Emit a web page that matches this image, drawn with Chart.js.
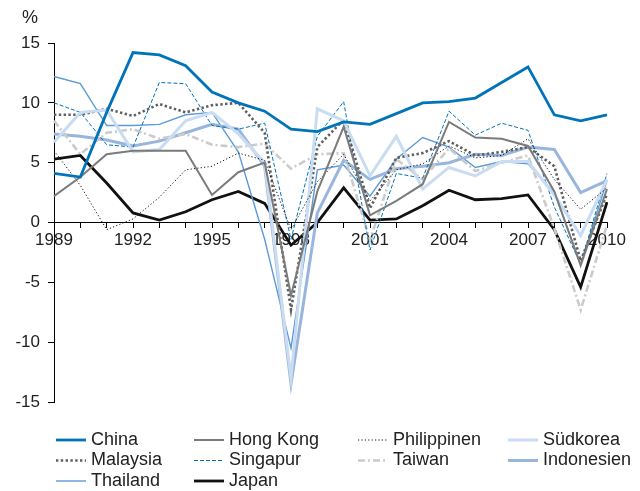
<!DOCTYPE html>
<html>
<head>
<meta charset="utf-8">
<title>BIP-Wachstum Asien</title>
<script src="https://cdn.jsdelivr.net/npm/chart.js@4"></script>
<style>
  body { margin: 0; background: #fff; }
  canvas { display: block; }
</style>
</head>
<body>
<canvas id="chart" width="640" height="491"></canvas>
<script>
const years = ['1989','1990','1991','1992','1993','1994','1995','1996','1997','1998','1999',
               '2000','2001','2002','2003','2004','2005','2006','2007','2008','2009','2010'];

const china       = [4.1, 3.8, 9.2, 14.2, 14.0, 13.1, 10.9, 10.0, 9.3, 7.8, 7.6, 8.4, 8.2, 9.1, 10.0, 10.1, 10.4, 11.7, 13.0, 9.0, 8.5, 9.0];
const hongKong    = [2.2, 3.8, 5.7, 6.0, 6.0, 6.0, 2.3, 4.2, 5.0, -6.1, 2.6, 8.0, 0.6, 1.8, 3.2, 8.4, 7.1, 7.0, 6.4, 2.6, -3.6, 2.8];
const philippinen = [6.0, 3.1, -0.6, 0.3, 2.1, 4.4, 4.7, 5.8, 5.2, -0.6, 3.4, 5.7, 1.8, 4.4, 4.9, 6.4, 5.4, 5.6, 7.0, 3.6, 1.1, 2.9];
const suedkorea   = [6.7, 9.2, 9.4, 5.9, 6.1, 8.5, 9.2, 7.4, 5.0, -13.0, 9.5, 8.5, 3.9, 7.2, 2.8, 4.6, 3.9, 5.1, 5.1, 2.3, -1.1, 3.6];
const malaysia    = [9.0, 9.0, 9.5, 8.9, 9.9, 9.2, 9.8, 10.0, 7.5, -7.3, 6.3, 8.6, 1.2, 5.4, 5.8, 6.8, 5.6, 5.9, 6.3, 4.7, -3.2, 2.4];
const singapur    = [10.0, 9.2, 6.5, 6.3, 11.7, 11.6, 8.1, 7.8, 8.3, -1.4, 7.2, 10.1, -2.3, 4.1, 3.7, 9.3, 7.3, 8.3, 7.7, 1.3, -3.5, 4.1];
const taiwan      = [8.5, 5.7, 7.5, 7.8, 7.0, 7.4, 6.5, 6.3, 6.6, 4.5, 5.7, 5.8, -1.5, 5.3, 3.6, 6.2, 4.3, 5.0, 5.6, -0.5, -7.3, -0.2];
const indonesien  = [7.4, 7.2, 6.9, 6.4, 6.8, 7.5, 8.2, 7.8, 4.7, -13.5, 0.8, 5.2, 3.6, 4.5, 4.7, 5.0, 5.7, 5.6, 6.3, 6.1, 2.5, 3.5];
const thailand    = [12.2, 11.6, 8.1, 8.1, 8.2, 9.0, 9.2, 5.9, -1.4, -10.5, 4.4, 4.8, 2.2, 5.3, 7.1, 6.3, 4.6, 5.1, 4.9, 2.5, -3.5, 3.5];
const japan       = [5.3, 5.6, 3.3, 0.8, 0.2, 0.9, 1.9, 2.6, 1.6, -1.9, 0.0, 2.9, 0.2, 0.3, 1.4, 2.7, 1.9, 2.0, 2.3, -0.6, -5.4, 1.7];

const yTicks = [-15, -10, -5, 0, 5, 10, 15];

const FONT = '"Liberation Sans", Arial, Helvetica, sans-serif';

function line(label, data, color, width, dash) {
  return {
    label: label,
    data: data,
    borderColor: color,
    borderWidth: width,
    borderDash: dash || [],
    pointRadius: 0,
    pointHoverRadius: 0,
    fill: false,
    tension: 0
  };
}

var datasets = [
  line('China', china, '#0073b9', 2.8),
  line('Hong Kong', hongKong, '#7b7b7b', 2),
  line('Philippinen', philippinen, '#111111', 1, [1.2, 2.2]),
  line('Südkorea', suedkorea, '#c9dcf2', 3),
  line('Malaysia', malaysia, '#5f5f5f', 2.6, [2.4, 2.4]),
  line('Singapur', singapur, '#0073b9', 1, [4, 2]),
  line('Taiwan', taiwan, '#cbcbcb', 2.6, [7, 3, 2, 3]),
  line('Indonesien', indonesien, '#98b6dd', 3),
  line('Thailand', thailand, '#5d9ad6', 1.4),
  line('Japan', japan, '#111111', 2.8)
];

// legend in a fixed 4-column grid plus the unit label
const legendGrid = {
  id: 'legendGrid',
  afterDraw(chart) {
    const ctx = chart.ctx;
    const cols = [56, 194, 358, 508];
    const rows = [440, 460.5, 481];
    ctx.save();
    ctx.fillStyle = '#222';
    ctx.textBaseline = 'middle';
    ctx.font = '18px ' + FONT;
    ctx.fillText('%', 22, 18);
    chart.data.datasets.forEach((ds, i) => {
      const x = cols[i % 4];
      const y = rows[Math.floor(i / 4)];
      ctx.beginPath();
      ctx.strokeStyle = ds.borderColor;
      ctx.lineWidth = ds.borderWidth;
      ctx.setLineDash(ds.borderDash);
      ctx.moveTo(x, y);
      ctx.lineTo(x + 30, y);
      ctx.stroke();
      ctx.setLineDash([]);
      ctx.fillText(ds.label, x + 35, y);
    });
    ctx.restore();
  }
};

new Chart(document.getElementById('chart'), {
  type: 'line',
  data: { labels: years, datasets: datasets },
  options: {
    responsive: false,
    animation: false,
    events: [],
    layout: { padding: { top: 43, bottom: 89, left: 0, right: 33 } },
    plugins: {
      legend: { display: false },
      tooltip: { enabled: false }
    },
    scales: {
      x: {
        position: { y: 0 },
        offset: false,
        border: { display: true, color: '#000', width: 1 },
        grid: { drawOnChartArea: false, drawTicks: true, tickLength: 5, color: '#000' },
        ticks: {
          autoSkip: false,
          maxRotation: 0,
          padding: 3,
          color: '#222',
          font: { family: FONT, size: 17 },
          callback: function (value, index) {
            return index % 3 === 0 ? years[index] : '';
          }
        }
      },
      y: {
        min: -15,
        max: 15,
        afterFit: function (scale) { scale.width = 54; },
        afterBuildTicks: function (scale) {
          scale.ticks = yTicks.map(v => ({ value: v }));
        },
        border: { display: true, color: '#000', width: 1 },
        grid: { drawOnChartArea: false, drawTicks: true, tickLength: 6, color: '#000' },
        ticks: {
          padding: 8,
          color: '#222',
          font: { family: FONT, size: 17 }
        }
      }
    }
  },
  plugins: [legendGrid]
});
</script>
</body>
</html>
